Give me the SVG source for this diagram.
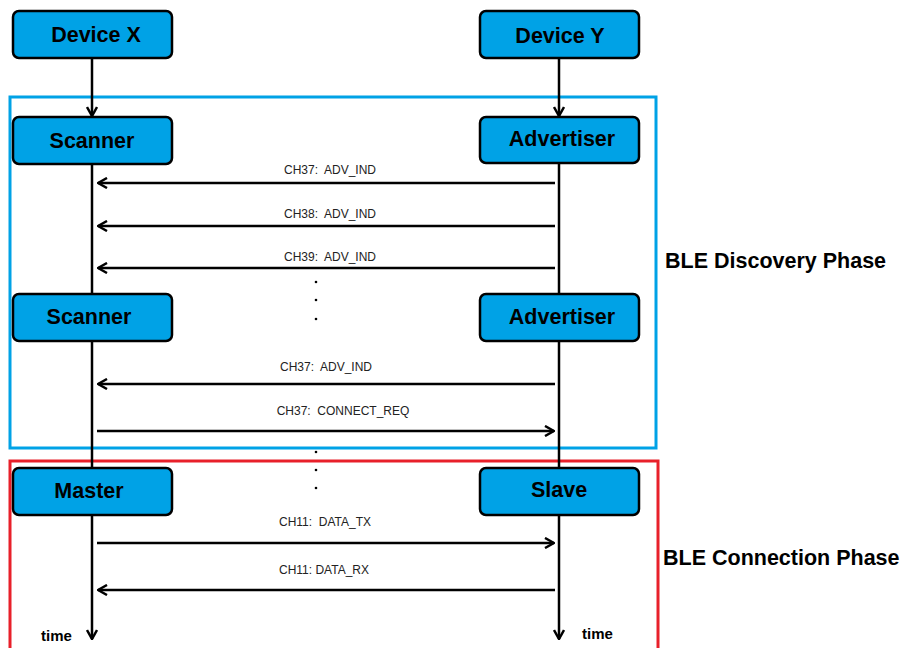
<svg xmlns="http://www.w3.org/2000/svg" width="906" height="648" viewBox="0 0 906 648">
<style>
.box rect{fill:#00a2e6;stroke:#000;stroke-width:2.5}
.box text{font-family:"Liberation Sans",Arial,sans-serif;font-weight:bold;font-size:21.5px;text-anchor:middle;fill:#000}
.ln{stroke:#000;stroke-width:2.5;fill:none}
.msg{font-family:"Liberation Sans",Arial,sans-serif;font-size:12px;fill:#222;text-anchor:middle;white-space:pre}
.ph{font-family:"Liberation Sans",Arial,sans-serif;font-weight:bold;font-size:21.5px;fill:#000}
.tm{font-family:"Liberation Sans",Arial,sans-serif;font-weight:bold;font-size:15px;fill:#000}
</style>
<defs>
<marker id="ah" viewBox="0 0 12 12" refX="11" refY="6" markerWidth="12" markerHeight="12" markerUnits="userSpaceOnUse" orient="auto">
<path d="M2,1 L11,6 L2,11" fill="none" stroke="#000" stroke-width="2.5"/>
</marker>
</defs>
<rect x="10" y="97" width="646" height="351" fill="none" stroke="#00a2e6" stroke-width="3"/>
<rect x="10" y="461" width="648" height="200" fill="none" stroke="#e8202a" stroke-width="3"/>
<g id="connectors">
<line class="ln" x1="92" y1="58" x2="92" y2="116" marker-end="url(#ah)"/>
<line class="ln" x1="559" y1="58" x2="559" y2="116" marker-end="url(#ah)"/>
<line class="ln" x1="92" y1="164" x2="92" y2="294"/>
<line class="ln" x1="559" y1="163" x2="559" y2="294"/>
<line class="ln" x1="92" y1="341" x2="92" y2="468"/>
<line class="ln" x1="559" y1="341" x2="559" y2="468"/>
<line class="ln" x1="92" y1="515" x2="92" y2="639" marker-end="url(#ah)"/>
<line class="ln" x1="559" y1="515" x2="559" y2="639" marker-end="url(#ah)"/>
<line class="ln" x1="555" y1="183" x2="98" y2="183" marker-end="url(#ah)"/>
<line class="ln" x1="555" y1="226" x2="98" y2="226" marker-end="url(#ah)"/>
<line class="ln" x1="555" y1="268" x2="98" y2="268" marker-end="url(#ah)"/>
<line class="ln" x1="555" y1="384" x2="98" y2="384" marker-end="url(#ah)"/>
<line class="ln" x1="97" y1="431" x2="554" y2="431" marker-end="url(#ah)"/>
<line class="ln" x1="97" y1="543" x2="554" y2="543" marker-end="url(#ah)"/>
<line class="ln" x1="555" y1="590" x2="98" y2="590" marker-end="url(#ah)"/>
</g>
<g id="labels">
<text class="msg" x="330" y="174" xml:space="preserve">CH37:  ADV_IND</text>
<text class="msg" x="330" y="218" xml:space="preserve">CH38:  ADV_IND</text>
<text class="msg" x="330" y="261" xml:space="preserve">CH39:  ADV_IND</text>
<text class="msg" x="326" y="371" xml:space="preserve">CH37:  ADV_IND</text>
<text class="msg" x="343" y="415" xml:space="preserve">CH37:  CONNECT_REQ</text>
<text class="msg" x="325" y="526" xml:space="preserve">CH11:  DATA_TX</text>
<text class="msg" x="324" y="574">CH11: DATA_RX</text>
<circle cx="316" cy="282" r="1.3"/><circle cx="316" cy="300" r="1.3"/><circle cx="316" cy="319" r="1.3"/>
<circle cx="316" cy="452" r="1.3"/><circle cx="316" cy="470" r="1.3"/><circle cx="316" cy="488" r="1.3"/>
<text class="ph" x="665" y="268">BLE Discovery Phase</text>
<text class="ph" x="663" y="565">BLE Connection Phase</text>
<text class="tm" x="41" y="641">time</text>
<text class="tm" x="582" y="639">time</text>
</g>
<g id="deviceX" class="box"><rect x="13" y="11" width="159" height="47" rx="6"/><text x="96" y="42">Device X</text></g>
<g id="deviceY" class="box"><rect x="480" y="11" width="159" height="47" rx="6"/><text x="560" y="43">Device Y</text></g>
<g id="scanner1" class="box"><rect x="13" y="117" width="159" height="47" rx="6"/><text x="92" y="148">Scanner</text></g>
<g id="advertiser1" class="box"><rect x="480" y="117" width="159" height="46" rx="6"/><text x="562" y="146">Advertiser</text></g>
<g id="scanner2" class="box"><rect x="13" y="294" width="159" height="47" rx="6"/><text x="89" y="324">Scanner</text></g>
<g id="advertiser2" class="box"><rect x="480" y="294" width="159" height="47" rx="6"/><text x="562" y="324">Advertiser</text></g>
<g id="master" class="box"><rect x="13" y="468" width="159" height="47" rx="6"/><text x="89" y="498">Master</text></g>
<g id="slave" class="box"><rect x="480" y="468" width="159" height="47" rx="6"/><text x="559" y="497">Slave</text></g>
</svg>
